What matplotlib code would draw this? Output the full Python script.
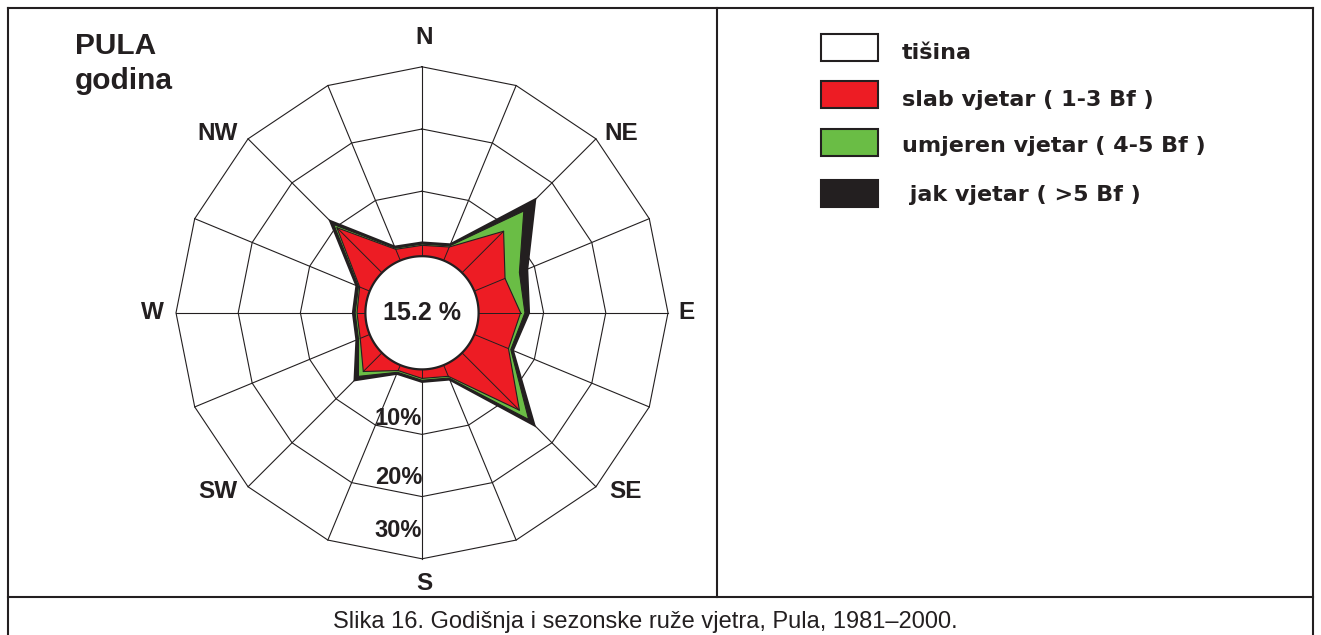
import numpy as np
import matplotlib
matplotlib.use("Agg")
import matplotlib.pyplot as plt
from matplotlib.patches import Rectangle
from matplotlib.lines import Line2D

# smjerovi vjetra (16), od N u smjeru kazaljke
smjerovi = ['N', 'NNE', 'NE', 'ENE', 'E', 'ESE', 'SE', 'SSE',
            'S', 'SSW', 'SW', 'WSW', 'W', 'WNW', 'NW', 'NNW']

# ucestalosti (%) po razredima jacine
slab = [1.3, 1.9, 9.0, 4.9, 6.3, 5.5, 12.6, 1.5, 1.0, 0.5, 3.8, 1.2, 0.9, 1.3, 9.8, 1.5]
umjeren = [0.2, 0.2, 4.6, 2.5, 0.7, 0.4, 2.1, 0.3, 0.3, 0.3, 1.1, 0.3, 0.3, 0.2, 0.7, 0.2]
jak = [0.2, 0.2, 2.5, 1.3, 0.6, 0.3, 1.2, 0.2, 0.2, 0.2, 0.8, 0.3, 0.3, 0.3, 0.7, 0.2]
tisina = 15.2

prstenovi = [10, 20, 30]
oznake_prstenova = ['10%', '20%', '30%']
strane = ['N', 'NE', 'E', 'SE', 'S', 'SW', 'W', 'NW']

legenda_tekst = ['tišina', 'slab vjetar ( 1-3 Bf )', 'umjeren vjetar ( 4-5 Bf )', ' jak vjetar ( >5 Bf )']
legenda_boje = ['white', '#ED1C24', '#6ABD45', '#231F20']

CRNA = '#231F20'
W, H = 1321, 635


def px(x, y):
    return x / W, 1 - y / H


fig = plt.figure(figsize=(13.21, 6.35), dpi=100)
fig.patch.set_facecolor('white')

# okvir
for (x0, y0, x1, y1) in [(8, 8, 1313, 8), (8, 8, 8, 640), (1313, 8, 1313, 640),
                         (717, 8, 717, 597), (8, 597, 1313, 597)]:
    a, b = px(x0, y0)
    c, d = px(x1, y1)
    fig.add_artist(Line2D([a, c], [b, d], color=CRNA, lw=1.5))

# ruza vjetra
cx, cy, R = 422, 312.8, 246
ax = fig.add_axes([(cx - R) / W, (H - cy - R) / H, 2 * R / W, 2 * R / H], projection='polar')
ax.set_theta_zero_location('N')
ax.set_theta_direction(-1)
r0 = -9.55
ax.set_ylim(r0, 30)
ax.axis('off')

theta = np.deg2rad(np.arange(16) * 22.5)
th = np.append(theta, theta[0])
r_kalm = -0.45

# mreza
for p in prstenovi:
    ax.plot(th, [p] * 17, color=CRNA, lw=0.8, zorder=1, clip_on=False)
for t in theta:
    ax.plot([t, t], [r_kalm, 30], color=CRNA, lw=0.8, zorder=1, clip_on=False)

s1 = np.array(slab)
s2 = s1 + np.array(umjeren)
s3 = s2 + np.array(jak)
zat = lambda a: np.append(a, a[0])

ax.fill(th, zat(s3), facecolor=legenda_boje[3], edgecolor=CRNA, lw=2.0, zorder=2, joinstyle='miter')
ax.fill(th, zat(s2), facecolor=legenda_boje[2], edgecolor=CRNA, lw=0.8, zorder=3)
ax.fill(th, zat(s1), facecolor=legenda_boje[1], edgecolor=CRNA, lw=0.8, zorder=4)
for t, v in zip(theta, s1):
    ax.plot([t, t], [r_kalm, v], color=CRNA, lw=0.7, zorder=5)

# tisina
tc = np.linspace(0, 2 * np.pi, 200)
ax.fill(tc, np.full_like(tc, r_kalm), facecolor='white', edgecolor=CRNA, lw=1.6, zorder=6)
ax.text(0, r0, f'{tisina} %', ha='center', va='center', fontsize=18,
        fontweight='bold', family='Liberation Sans', color=CRNA, zorder=7)

# oznake prstenova
r_oznaka = [7.4, 17.0, 25.5]
for r, lab in zip(r_oznaka, oznake_prstenova):
    ax.text(np.pi, r, lab, ha='right', va='center', fontsize=17,
            fontweight='bold', family='Liberation Sans', color=CRNA, zorder=7)

# strane svijeta (polozaj oznaka u pikselima)
poz_strana = [(424, 37), (621, 133), (686, 313), (626, 492),
              (424, 583), (218, 492), (152, 313), (218, 134)]
for s, (x, y) in zip(strane, poz_strana):
    fig.text(*px(x, y), s, ha='center', va='center', fontsize=17.5,
             fontweight='bold', family='Liberation Sans', color=CRNA)

# naslov
fig.text(*px(75, 53.5), 'PULA', ha='left', va='baseline', fontsize=21.5,
         fontweight='bold', family='Liberation Sans', color=CRNA)
fig.text(*px(75, 89), 'godina', ha='left', va='baseline', fontsize=21.5,
         fontweight='bold', family='Liberation Sans', color=CRNA)

# legenda
y_kut = [47.5, 94, 142.5, 193.5]
y_txt = [53, 100, 146.5, 195]
for i in range(4):
    x0, y0 = px(821, y_kut[i] + 13.5)
    fig.add_artist(Rectangle((x0, y0), 57 / W, 27 / H, transform=fig.transFigure,
                             facecolor=legenda_boje[i], edgecolor=CRNA, lw=1.5))
    fig.text(*px(902, y_txt[i]), legenda_tekst[i], ha='left', va='center', fontsize=16,
             fontweight='bold', family='DejaVu Sans', color=CRNA)

# potpis
fig.text(*px(645, 622), 'Slika 16. Godišnja i sezonske ruže vjetra, Pula, 1981–2000.',
         ha='center', va='center', fontsize=17, family='Liberation Sans', color=CRNA)

fig.savefig('out.png', dpi=100, facecolor='white')
